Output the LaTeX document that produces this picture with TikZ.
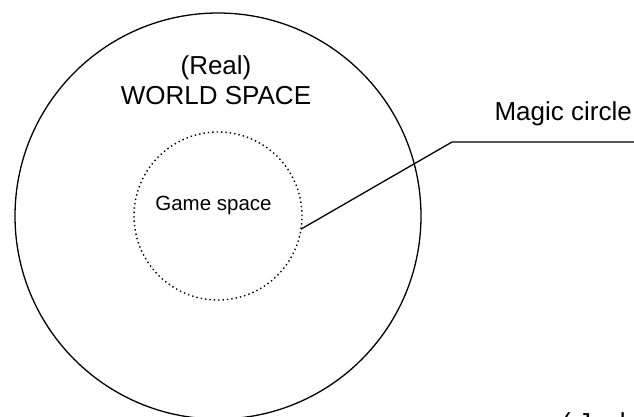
\documentclass[tikz,border=0pt]{standalone}
\usepackage{fontspec}
\setmainfont{Liberation Sans}
\usetikzlibrary{positioning}

\begin{document}
\begin{tikzpicture}[
  x=1pt, y=-1pt,
  ring/.style={circle, draw=black, line width=1.3pt, inner sep=0pt, outer sep=0pt},
  dotring/.style={ring, line width=1.4pt, dash pattern=on 1.4pt off 3pt},
  bigtext/.style={font=\fontsize{26}{30}\selectfont, align=center, inner sep=0pt},
  smalltext/.style={font=\fontsize{20.5}{24}\selectfont, inner sep=0pt},
  leader/.style={draw=black, line width=1.3pt}
]
\useasboundingbox (0,0) rectangle (634,416);

\coordinate (centre) at (218,216);
\node[ring, minimum size=406pt] (world) at (centre) {};
\node[dotring, minimum size=168pt] (game) at (centre) {};

\node[bigtext] (worldlabel) at (216,80) {(Real)\\WORLD SPACE};
\node[smalltext, anchor=base] (gamelabel) at (213.5,210) {Game space};

\coordinate (bend) at (452,142);
\coordinate (tail) at (634,142);
\draw[leader] (game.-9) -- (bend) -- (tail);
\node[bigtext, anchor=base east] (magiclabel) at (632,120) {Magic circle};

\node[bigtext, anchor=north west] (source) at (562,412) {( Juul, 20};

\end{tikzpicture}
\end{document}
